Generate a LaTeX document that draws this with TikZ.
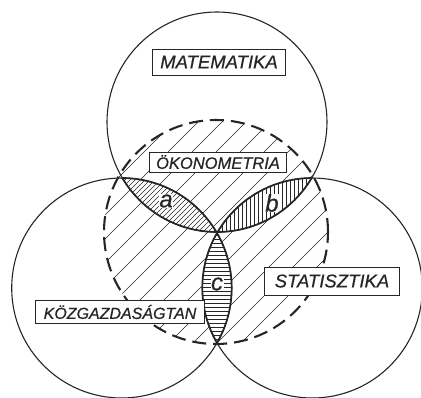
\documentclass[tikz,border=0pt]{standalone}
\usepackage{fontspec}
\setmainfont{Liberation Sans}
\newfontfamily\lettering[FakeBold=0.6]{Liberation Sans}
\definecolor{ink}{RGB}{38,38,38}
\tikzset{
  ring/.style={draw=ink, line width=1.1pt},
  lensedge/.style={draw=ink, line width=1.7pt},
  dashring/.style={draw=ink, line width=2.1pt, dash pattern=on 14pt off 7pt},
  sparse/.style={draw=ink, line width=0.5pt},
  dense/.style={draw=ink, line width=0.45pt},
  labelbox/.style={draw=ink, fill=white, line width=0.8pt, inner sep=0pt, text=ink},
  letter/.style={fill=white, inner sep=0.5pt, text=ink, font=\fontsize{24}{24}\lettering\itshape}
}
\begin{document}
\begin{tikzpicture}[x=1pt,y=-1pt]
\useasboundingbox (0,0) rectangle (421,397);
\fill[white] (0,0) rectangle (421,397);
\coordinate (T) at (217,122);
\coordinate (L) at (121.7,288);
\coordinate (R) at (312.3,288);
\coordinate (O) at (216,232);

% sparse hatching inside the dashed circle
\begin{scope}
  \clip (O) circle[radius=112pt];
  \foreach \c in {200,224,...,700} \draw[sparse] (\c,0) -- ({\c-400},400);
\end{scope}

% lens a: top and left
\begin{scope}
  \clip (T) circle[radius=110pt];
  \clip (L) circle[radius=110pt];
  \fill[white] (0,0) rectangle (421,397);
  \foreach \c in {290,295,...,460} \draw[dense] (\c,0) -- ({\c-400},400);
\end{scope}
% lens b: top and right
\begin{scope}
  \clip (T) circle[radius=110pt];
  \clip (R) circle[radius=110pt];
  \fill[white] (0,0) rectangle (421,397);
  \foreach \x in {214,218,...,318} \draw[dense] (\x,170) -- (\x,240);
\end{scope}
% lens c: left and right
\begin{scope}
  \clip (L) circle[radius=110pt];
  \clip (R) circle[radius=110pt];
  \fill[white] (0,0) rectangle (421,397);
  \foreach \y in {231,235,...,347} \draw[dense] (195,\y) -- (240,\y);
\end{scope}

% the three circles
\draw[ring] (T) circle[radius=110pt];
\draw[ring] (L) circle[radius=110pt];
\draw[ring] (R) circle[radius=110pt];

% thicker lens outlines
\begin{scope}
  \clip (T) circle[radius=110pt];
  \draw[lensedge] (L) circle[radius=110pt];
  \draw[lensedge] (R) circle[radius=110pt];
\end{scope}
\begin{scope}
  \clip (L) circle[radius=110pt];
  \draw[lensedge] (T) circle[radius=110pt];
  \draw[lensedge] (R) circle[radius=110pt];
\end{scope}
\begin{scope}
  \clip (R) circle[radius=110pt];
  \draw[lensedge] (T) circle[radius=110pt];
  \draw[lensedge] (L) circle[radius=110pt];
\end{scope}

% dashed circle
\draw[dashring] (O) circle[radius=112pt];

% labels
\node[labelbox, minimum width=133pt, minimum height=26pt, font=\fontsize{18.5}{18.5}\lettering\itshape] (mat) at (219,62) {MATEMATIKA};
\node[labelbox, minimum width=137pt, minimum height=20pt, font=\fontsize{16.5}{16.5}\lettering\itshape] (oko) at (218,162) {ÖKONOMETRIA};
\node[labelbox, minimum width=135pt, minimum height=28pt, font=\fontsize{18.5}{18.5}\lettering\itshape] (stat) at (332,281) {STATISZTIKA};
\node[labelbox, minimum width=169pt, minimum height=23pt, font=\fontsize{16}{16}\lettering\itshape] (kozg) at (120,312) {KÖZGAZDASÁGTAN};

\node[letter] (la) at (166,201) {a};
\node[letter] (lb) at (272,203) {b};
\node[letter] (lc) at (217,284) {c};
\end{tikzpicture}
\end{document}
